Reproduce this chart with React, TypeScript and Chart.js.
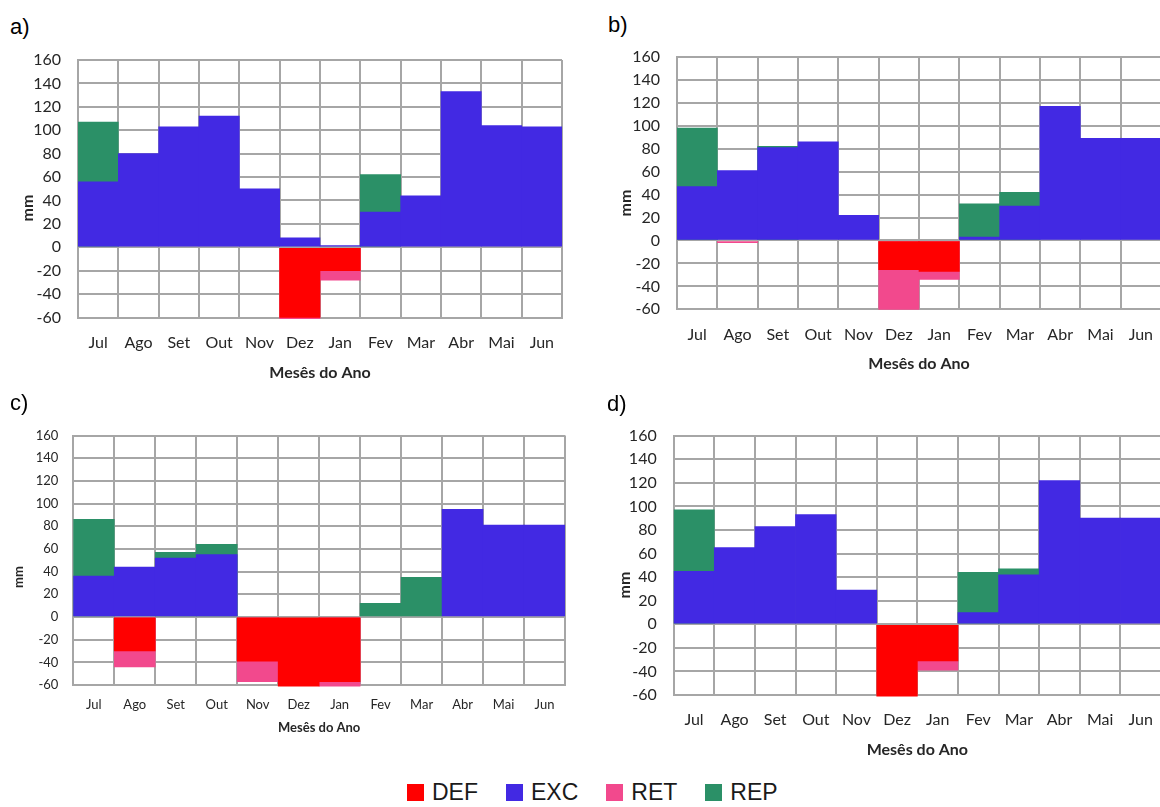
import React, { useEffect, useRef } from 'react';
import { Chart, registerables } from 'chart.js';

Chart.register(...registerables);

// ---------- data ----------
const months = ['Jul', 'Ago', 'Set', 'Out', 'Nov', 'Dez', 'Jan', 'Fev', 'Mar', 'Abr', 'Mai', 'Jun'];
const seriesNames = ['DEF', 'EXC', 'RET', 'REP'];
const seriesColors = ['#FF0000', '#4229E3', '#F2498D', '#2B9067'];
const yMin = -60;
const yMax = 160;
const yStep = 20;
const xTitle = 'Mesês do Ano';
const yTitle = 'mm';

// panel a)
const defA = [null, null, null, null, null, -60, -20, null, null, null, null, null];
const excA = [56, 80, 103, 112, 50, 8, 1.5, 30, 44, 133, 104, 103];
const retA = [null, null, null, null, null, -61, -28, null, null, null, null, null];
const repA = [107, null, null, null, null, null, null, 62, null, null, null, null];

// panel b)
const defB = [null, null, null, null, null, -25.5, -27, null, null, null, null, null];
const excB = [47, 61, 81, 86, 22, null, null, 3, 30, 117, 89, 89];
const retB = [null, -2, null, null, null, -60, -34, null, null, null, null, null];
const repB = [98, null, 82, null, null, null, null, 32, 42, null, null, null];

// panel c)
const defC = [null, -30, null, null, -39, -61, -57, null, null, null, null, null];
const excC = [36, 44, 52, 55, null, null, null, null, null, 95, 81, 81];
const retC = [null, -44, null, null, -57, null, -61, null, null, null, null, null];
const repC = [86, null, 57, 64, null, null, null, 12, 35, null, null, null];

// panel d)
const defD = [null, null, null, null, null, -61, -31, null, null, null, null, null];
const excD = [45, 65, 83, 93, 29, null, null, 10, 42, 122, 90, 90];
const retD = [null, null, null, null, null, null, -39, null, null, null, null, null];
const repD = [97, null, null, null, null, null, null, 44, 47, null, null, null];

// ---------- layout ----------
type PanelCfg = {
  label: string;
  labelLeft: number;
  labelTop: number;
  series: (number | null)[][];
  left: number;
  top: number;
  width: number;
  height: number;
  padTop: number;
  padRight: number;
  yW: number;
  xH: number;
  font: number;
  xTickPad: number;
  yTickPad: number;
  xTitlePad: number;
  mmX: number;
  mmY: number;
};

const panels: PanelCfg[] = [
  {
    label: 'a)', labelLeft: 10, labelTop: 14,
    series: [defA, excA, retA, repA],
    left: 0, top: 40, width: 580, height: 350,
    padTop: 20, padRight: 18, yW: 78, xH: 72.5,
    font: 16, xTickPad: 16, yTickPad: 17, xTitlePad: 8,
    mmX: 28, mmY: 168,
  },
  {
    label: 'b)', labelLeft: 608, labelTop: 12,
    series: [defB, excB, retB, repB],
    left: 590, top: 40, width: 572, height: 340,
    padTop: 17, padRight: 1, yW: 87, xH: 70.7,
    font: 16, xTickPad: 16, yTickPad: 17, xTitlePad: 7,
    mmX: 36, mmY: 163,
  },
  {
    label: 'c)', labelLeft: 10, labelTop: 390,
    series: [defC, excC, retC, repC],
    left: 0, top: 400, width: 580, height: 345,
    padTop: 35.5, padRight: 15, yW: 73.3, xH: 60,
    font: 13, xTickPad: 12, yTickPad: 15, xTitlePad: 9,
    mmX: 18.5, mmY: 177,
  },
  {
    label: 'd)', labelLeft: 607, labelTop: 391,
    series: [defD, excD, retD, repD],
    left: 590, top: 400, width: 572, height: 365,
    padTop: 35.7, padRight: 1, yW: 83.7, xH: 70,
    font: 16, xTickPad: 15, yTickPad: 17, xTitlePad: 5.5,
    mmX: 34.5, mmY: 185,
  },
];

const gridColor = '#A6A6A6';
const textColor = '#262626';
const tickFamily = 'Lato, "Open Sans", sans-serif';

function Panel({ cfg }: { cfg: PanelCfg }) {
  const ref = useRef<HTMLCanvasElement>(null);

  useEffect(() => {
    const canvas = ref.current;
    if (!canvas) return;

    const yTitlePlugin = {
      id: 'yTitleMM',
      afterDraw(chart: any) {
        const ctx = chart.ctx;
        ctx.save();
        ctx.translate(cfg.mmX, cfg.mmY);
        ctx.rotate(-Math.PI / 2);
        ctx.font = `bold ${cfg.font}px ${tickFamily}`;
        ctx.fillStyle = textColor;
        ctx.textAlign = 'center';
        ctx.textBaseline = 'middle';
        ctx.fillText(yTitle, 0, 0);
        ctx.restore();
      },
    };

    const chart = new Chart(canvas, {
      type: 'bar',
      data: {
        labels: months,
        datasets: seriesNames.map((name, i) => ({
          label: name,
          data: cfg.series[i] as any,
          backgroundColor: seriesColors[i],
          borderWidth: 0,
          grouped: false,
          barPercentage: 1,
          categoryPercentage: 1,
          clip: { left: 0, top: 0, right: 0, bottom: 3 } as any,
        })),
      },
      options: {
        animation: false,
        responsive: false,
        devicePixelRatio: 1,
        layout: { padding: { top: cfg.padTop, right: cfg.padRight, left: 0, bottom: 0 } },
        plugins: {
          legend: { display: false },
          tooltip: { enabled: false },
        },
        scales: {
          x: {
            offset: true,
            grid: { color: gridColor, lineWidth: 2, drawTicks: false, offset: true },
            border: { color: gridColor, width: 2 },
            ticks: {
              padding: cfg.xTickPad,
              color: textColor,
              font: { family: tickFamily, size: cfg.font },
              maxRotation: 0,
              autoSkip: false,
            },
            title: {
              display: true,
              text: xTitle,
              color: textColor,
              font: { family: tickFamily, size: cfg.font, weight: 'bold' },
              padding: { top: 0, bottom: cfg.xTitlePad },
            },
            afterFit: (s: any) => {
              s.height = cfg.xH;
              s.paddingLeft = 0;
              s.paddingRight = 0;
            },
          },
          y: {
            min: yMin,
            max: yMax,
            grid: { color: gridColor, lineWidth: 2, drawTicks: false },
            border: { color: gridColor, width: 2 },
            ticks: {
              stepSize: yStep,
              autoSkip: false,
              padding: cfg.yTickPad,
              color: textColor,
              font: { family: tickFamily, size: cfg.font },
            },
            afterFit: (s: any) => {
              s.width = cfg.yW;
              s.paddingTop = 0;
              s.paddingBottom = 0;
            },
          },
        },
      },
      plugins: [yTitlePlugin],
    });

    return () => chart.destroy();
  }, [cfg]);

  return (
    <canvas
      ref={ref}
      width={cfg.width}
      height={cfg.height}
      style={{ position: 'absolute', left: cfg.left, top: cfg.top, width: cfg.width, height: cfg.height }}
    />
  );
}

export default function App() {
  return (
    <div
      style={{
        position: 'absolute',
        left: 0,
        top: 0,
        width: 1160,
        height: 807,
        overflow: 'hidden',
        background: '#ffffff',
      }}
    >
      {panels.map((p) => (
        <React.Fragment key={p.label}>
          <Panel cfg={p} />
          <div
            style={{
              position: 'absolute',
              left: p.labelLeft,
              top: p.labelTop,
              font: '22px "Liberation Sans", Arial, sans-serif',
              lineHeight: '26px',
              color: '#000',
            }}
          >
            {p.label}
          </div>
        </React.Fragment>
      ))}
      <div
        style={{
          position: 'absolute',
          left: 407,
          top: 778,
          height: 28,
          display: 'flex',
          alignItems: 'center',
          font: '23px "Liberation Sans", Arial, sans-serif',
          color: '#1a1a1a',
        }}
      >
        {seriesNames.map((n, i) => (
          <div key={n} style={{ display: 'flex', alignItems: 'center', marginRight: 28 }}>
            <span style={{ display: 'inline-block', width: 17, height: 17, background: seriesColors[i], marginRight: 8 }} />
            <span>{n}</span>
          </div>
        ))}
      </div>
    </div>
  );
}
